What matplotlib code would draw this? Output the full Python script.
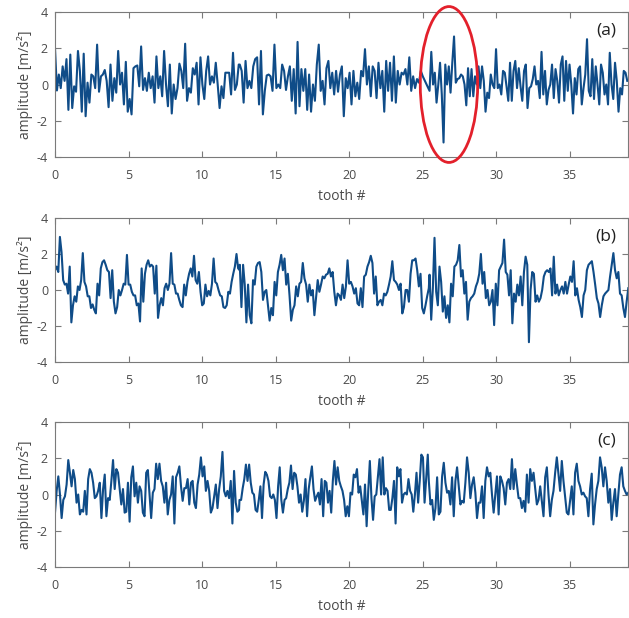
import numpy as np
import matplotlib
matplotlib.use('Agg')
import matplotlib.pyplot as plt
from matplotlib.patches import Ellipse

# amplitude, one list per third of each trace
A_PART1 = [2.0, -0.33, 0.55, -0.2, 1.0, 0.2, 1.4, -1.4, 1.65, -1.3, -0.1, -0.4, 1.85, 0.75, -1.5, 1.7, -1.75, 0.1, -1.0, 0.55,
           0.45, -0.2, 2.2, -0.4, 0.45, 0.55, 0.8, 0.2, -1.25, 1.1, -0.9, 0.35, -0.45, 1.85, 0.0, 0.65, -1.1, 1.25, -1.5, -0.8,
           -1.65, 0.9, 1.0, 1.05, -0.1, 2.1, -0.3, 0.35, -0.35, 0.65, -0.2, 0.45, -1.0, 1.55, -0.2, 0.45, -0.65, 1.85, 0.0, -1.2,
           1.1, -1.6, 0.0, -0.8, -0.2, 1.15, 0.75, -0.2, 2.25, -0.9, -0.2, -0.45, 0.9, 0.55, 1.2, -1.1, 1.5, 0.0, -0.8, 0.75,
           1.55, 0.0, 0.45, 0.1, 1.2, 0.0, -1.3, -0.1, -0.75, 0.65, 0.65, 0.65, -0.55, 1.75, -0.3, 0.0, 1.1]
A_PART2 = [1.1, 0.75, -1.0, 1.3, -0.2, 0.2, -0.2, 1.0, 1.4, 1.5, -1.1, 1.85, -1.65, -0.35, 0.5, 0.55, 0.45, -0.35, 2.2, -0.2,
           0.0, -0.2, 1.1, 0.75, -0.3, 0.45, 1.0, -0.9, 0.85, -1.6, 2.35, -1.2, 0.85, -0.35, 0.85, -1.4, 0.55, -1.5, 0.0, -0.9,
           1.1, 2.2, -0.35, 0.2, -1.1, 0.9, 1.3, -0.2, 0.65, -0.55, 0.75, -0.4, 0.55, 1.0, -1.75, 0.35, -0.2, 0.65, -1.1, 0.75,
           -0.65, 0.1, -0.8, 0.75, 0.45, 1.95, 0.0, 1.0, -0.65, 1.0, 0.75, -0.75, 1.2, -0.2, 0.75, -1.5, 1.3, -0.35, 1.2, -0.9,
           1.55, -1.0, 0.75, 0.0, 0.65, 0.55, 0.85, 0.0, 1.5, -0.35, 0.45, -0.2, 0.3, 0.1, 0.75, 0.45]
A_PART3 = [-0.35, 1.8, 0.0, 0.65, -1.0, 0.0, 1.2, -0.55, -3.2, 1.1, 0.0, 1.0, -0.45, 1.2, 2.65, 0.1, 0.3, 0.35, 0.55, 0.45,
           0.0, -1.15, 0.9, -0.65, 0.85, -0.65, 0.45, 0.0, 1.0, -0.2, 1.0, 0.2, -1.5, -0.45, -0.75, 0.55, 0.0, -0.2, 1.95, -0.2,
           0.0, -0.55, 0.75, 0.65, -0.1, -0.9, 1.2, -0.9, 0.75, 1.3, -0.2, 0.9, -0.1, -0.9, 0.75, 1.1, -1.3, -0.2, -0.1, 0.3,
           1.0, 0.0, 0.2, -0.75, 1.8, -0.55, 0.75, -1.1, -0.3, 0.0, 1.1, -0.75, 0.85, 0.2, -1.0, 1.1, 1.55, -0.9, 1.3, -0.35,
           1.1, 0.0, -1.6, 0.35, -0.55, 0.85, 1.0, -1.1, -0.2, 0.55, 2.5, -0.35, -0.65, 1.4, -0.8, 1.0, 0.0, -1.1, 1.1, 0.65,
           -0.55, 0.0, -1.1, 1.75, 0.0, -0.8, 1.2, 0.2, -1.5, -0.2, -0.55, 0.75, 0.65, 0.2]

B_PART1 = [1.1, 1.3, 1.0, 2.95, 2.1, 0.55, 0.3, 0.35, -0.2, 1.3, -1.8, -0.85, -0.35, -0.65, 0.2, 0.0, 0.55, 2.05, 0.45, 0.2,
           -0.35, -0.35, -1.0, -0.8, -1.1, -1.3, 0.35, -0.3, 1.2, 1.55, 1.65, 1.4, 1.1, 1.0, -0.45, 1.1, -0.65, -1.3, -0.95, 0.0,
           -0.3, 0.0, 0.35, 0.3, 1.95, 0.3, 0.3, -0.1, -0.3, -0.3, -0.85, -0.75, -1.75, 1.2, -0.65, 0.9, 1.4, 1.65, 1.3, 1.4,
           1.3, -0.2, 1.35, -1.55, -0.85, -0.45, -0.85, 0.1, 0.35, 0.0, 0.35, 2.05, 0.35, 0.3, -0.2, -0.2, -0.55, -0.85, -0.95, 0.3,
           -0.3, 0.45, 0.9, 1.2, 0.75, 1.9, 0.55, 0.35, 1.0, -0.1, -0.85, -0.75, 0.3, -0.35, -0.05, -0.3, 0.35, 1.75, 0.45, 0.35,
           0.0, -0.3, -0.35, -0.95, -1.0, -0.85, -0.1, -0.2, 0.45, 0.9, 1.3, 2.0, 1.2, 1.1]
B_PART2 = [1.4, -0.95, 1.4, 0.3, -1.8, 0.3, -1.4, -1.85, 0.55, 0.3, 1.3, 1.5, 1.55, 1.0, -0.55, -0.1, 0.0, -0.85, -1.7, -1.0,
           -1.4, 0.45, -0.3, 1.0, 1.4, 1.95, 1.1, 1.75, 0.3, 0.9, -0.3, -1.7, -1.1, -0.85, 0.2, -0.35, 0.35, 0.45, 1.5, 0.65,
           0.3, -0.65, 0.3, -0.3, 0.0, -1.4, -0.45, 0.55, -0.1, 0.3, 0.75, 0.65, 0.85, 0.9, 1.2, 0.75, 1.0, -0.1, -0.85, -0.2,
           -0.3, -0.55, 0.3, -0.45, 0.2, 1.65, 0.35, 0.45, 0.2, -0.2, 0.1, -0.75, -0.85, 0.1, -0.95, 0.75, 0.85, 1.3, 1.55, 1.9,
           1.5, -0.2, 0.75, -0.85, -0.65, -0.55, -0.85, -0.2, -0.3, -0.1, 0.3, 0.75, 1.6, 0.55, 0.45, 0.3, 0.0, 0.35, -1.3, -0.95,
           0.0, 0.0, -0.65, 0.9, 1.65, 1.65, 1.75, 1.1, 0.2, 0.9, -1.0, -1.3, -0.85, -0.35, 0.1]
B_PART3 = [0.85, -1.65, 0.1, 2.9, -0.1, -0.85, 1.3, 0.45, -1.2, -0.35, -1.55, -0.85, -1.8, 0.35, -0.35, 1.3, 1.4, 1.65, 2.5, 0.75,
           1.1, -0.2, 0.45, -1.65, -0.65, -0.45, -0.35, -0.2, 0.2, 0.45, 0.9, 2.0, 0.35, 1.0, -0.45, 0.0, -0.85, -0.65, 0.0, -1.95,
           0.35, -0.85, 1.1, 1.3, 1.5, 2.8, 1.0, 0.85, -0.3, 1.1, -1.85, -0.2, -0.65, 0.3, -0.3, 0.75, -0.85, 1.0, 1.85, 1.4,
           -2.9, 0.0, 1.0, 0.9, -0.65, -0.3, -0.65, -0.45, 0.0, 0.75, 1.0, 1.1, 1.0, 1.2, -0.3, 1.85, -0.2, 0.3, -0.3, 0.0,
           0.2, -0.2, 0.45, -0.2, 0.3, 0.75, 0.45, 1.6, -0.3, 0.1, -0.55, -0.95, -1.5, -0.3, 0.0, 1.1, 1.4, 1.5, 1.6, 1.0,
           0.3, -0.45, -0.75, -1.5, -0.85, -0.35, -0.2, -0.1, 0.0, 0.75, 1.4, 2.05, 1.1, 0.65, 1.0, -0.2, -0.3, -1.0, -1.5, -0.65, 0.1]

C_PART1 = [-1.0, 0.2, 1.0, 0.0, -1.3, -0.3, -0.1, 0.55, 1.9, 1.2, 0.45, 1.35, 0.85, -0.45, 0.0, -1.1, -0.85, -0.95, 0.2, -1.1,
           0.85, 1.4, 1.2, 0.65, -0.2, -0.1, 0.2, 0.65, -1.3, 0.3, 1.1, -1.2, -0.2, -0.3, 0.75, 1.9, 0.3, 1.4, 1.2, 0.3,
           -0.55, 0.3, -1.0, -0.95, 0.65, -1.5, 0.95, 1.55, -0.1, 0.65, -0.45, 0.45, 0.2, -1.0, -1.2, 1.2, 1.35, 0.0, -1.3, 0.1,
           0.3, 1.7, 0.85, 1.7, 0.75, 0.45, -0.45, 0.65, -1.1, -0.3, 0.0, 1.0, -1.6, 0.95, 1.2, 1.55, 0.45, -0.35, 0.35, 0.35,
           0.85, -0.55, 0.65, 0.75, -0.45, -0.75, 0.55, 1.1, 2.05, 1.0, 1.55, 0.2, 0.75, 0.2, -1.0, -0.75, -0.1, 0.55, -0.75, 0.3,
           1.0, 2.35, 0.2, -0.1, 0.2, -0.2, 0.75, -1.6, 1.3, -0.45, -0.95, -0.85]
C_PART2 = [-0.3, -0.3, 0.35, 0.85, 1.65, 0.75, 1.65, 0.65, 0.1, 0.0, -0.85, -0.95, -0.3, 0.45, -1.3, 0.55, 1.25, 1.1, 0.75, -0.1,
           -0.2, 0.0, -0.3, -1.3, 0.45, 1.5, -0.3, -1.0, -0.3, -0.2, 0.3, 0.65, 1.6, 0.3, 1.2, 1.1, 0.45, -0.45, 0.0, -0.95,
           -0.35, 0.85, -1.2, 0.3, 0.95, 1.55, 0.3, -0.35, -0.1, 0.1, -0.55, 0.85, -1.2, 0.75, 0.65, -0.45, 0.2, -1.0, 0.75, 1.85,
           0.55, 1.5, 0.75, 0.45, 0.2, -0.3, -1.2, -0.65, -1.2, 0.1, 0.0, 1.1, 0.95, 1.4, 0.1, 0.45, -0.35, -1.1, 0.55, -1.75,
           0.2, 1.85, -0.2, -1.4, -0.1, 0.0, 0.95, 1.95, 0.0, 2.05, 0.0, 0.35, 0.2, -0.85, -0.85, -0.2, 0.75, -1.6, 1.5, 1.0,
           1.4, -0.45, 0.0, 0.1, 0.0, 0.85, 0.2, 0.0, -0.95, 0.0, 1.2, -0.45, 0.75, 2.2, 2.05, -0.45, 0.85, 2.2]
C_PART3 = [0.75, -0.55, -0.3, -1.4, -0.75, 0.95, -1.1, -0.95, 1.0, 1.75, 0.65, 0.1, 0.2, -0.55, 0.95, -1.2, 0.75, 1.5, 0.45, -0.55,
           -0.35, -0.45, 0.65, 2.05, 1.2, -0.2, 0.55, 0.95, 0.1, -1.3, -0.45, -0.45, 0.45, -1.3, 0.75, 1.5, 1.0, 1.2, 0.0, -1.0,
           0.0, 1.0, -1.1, 1.0, 0.75, 0.35, -0.55, 0.65, 0.85, 0.3, 1.95, 0.3, 1.4, 0.55, -0.2, -0.2, -0.75, -0.35, -0.95, 1.1,
           -0.45, 1.4, 0.75, 1.2, 0.3, -0.55, -0.3, 0.45, -0.35, -1.2, 0.95, 1.5, 0.0, -1.2, -0.3, 0.2, 1.2, 2.05, 1.1, 0.2,
           1.85, 0.75, -0.1, -1.0, -1.1, -0.3, 0.45, -1.1, 1.2, 1.7, 0.75, 0.45, 0.0, 0.1, -0.1, -0.2, -1.2, 0.3, 1.15, -1.65,
           -0.55, 0.3, 0.75, 2.05, 1.5, 0.45, 1.5, 0.75, -0.45, 0.3, -1.4, -0.45, 0.3, -1.2, 0.0, 1.1, 1.5, 0.45, 0.2, 0.0, 0.1]

# tooth range covered by each third of a trace
SPANS_A = [(0.0, 12.49), (12.56, 25.0), (25.46, 38.9)]
SPANS_B = [(0.0, 12.56), (12.56, 25.41), (25.46, 38.97)]
SPANS_C = [(0.0, 12.51), (12.54, 25.34), (25.41, 38.97)]

PANEL_NAMES = ['(a)', '(b)', '(c)']
X_TICKS = [0, 5, 10, 15, 20, 25, 30, 35]
Y_TICKS = [-4, -2, 0, 2, 4]

LINE_COLOR = '#0f4c88'
AXIS_COLOR = '#7a7a7a'
TEXT_COLOR = '#4a4a4a'


def build_trace(parts, spans):
  x = np.concatenate([np.linspace(lo, hi, len(p)) for p, (lo, hi) in zip(parts, spans)])
  y = np.concatenate([np.asarray(p, dtype=float) for p in parts])
  return x, y


def style_axis(ax, name):
  ax.set_xlim(0, 38.95)
  ax.set_ylim(-4, 4)
  ax.set_xticks(X_TICKS)
  ax.set_yticks(Y_TICKS)
  ax.set_yticklabels([str(v) for v in Y_TICKS])
  ax.tick_params(direction='in', top=True, right=True, length=4, width=0.8,
                 color=AXIS_COLOR, labelcolor=TEXT_COLOR, labelsize=9)
  ax.tick_params(axis='x', pad=8.5)
  ax.tick_params(axis='y', pad=5)
  for spine in ax.spines.values():
    spine.set_color(AXIS_COLOR)
    spine.set_linewidth(0.8)
  ax.set_xlabel('tooth #', fontsize=10, color=TEXT_COLOR, labelpad=5)
  ax.set_ylabel('amplitude [m/s²]', fontsize=10, color=TEXT_COLOR, labelpad=3)
  ax.text(0.962, 0.87, name, transform=ax.transAxes, ha='center', va='center',
          fontsize=12.5, color='#202020')


plt.rcParams['font.family'] = ['Open Sans', 'DejaVu Sans']
plt.rcParams['axes.unicode_minus'] = False

fig = plt.figure(figsize=(6.29, 6.18), dpi=100)
fig.set_facecolor('white')

W, H = 629.0, 618.0
# axes boxes in pixels: left, top, right, bottom
boxes = [(55, 12, 628, 157), (55, 218, 628, 362), (55, 422, 628, 567)]
traces = [build_trace([A_PART1, A_PART2, A_PART3], SPANS_A),
          build_trace([B_PART1, B_PART2, B_PART3], SPANS_B),
          build_trace([C_PART1, C_PART2, C_PART3], SPANS_C)]

axes = []
for (l, t, r, b), (x, y), name in zip(boxes, traces, PANEL_NAMES):
  ax = fig.add_axes([l / W, 1 - b / H, (r - l) / W, (b - t) / H])
  ax.plot(x, y, color=LINE_COLOR, linewidth=1.5)
  style_axis(ax, name)
  axes.append(ax)

# highlight the impact in the first trace
ring = Ellipse((26.78, 0.0), 3.9, 8.6, fill=False, edgecolor='#e3202b',
               linewidth=2.0, clip_on=False, zorder=5)
axes[0].add_patch(ring)

fig.savefig('out.png', dpi=100)
